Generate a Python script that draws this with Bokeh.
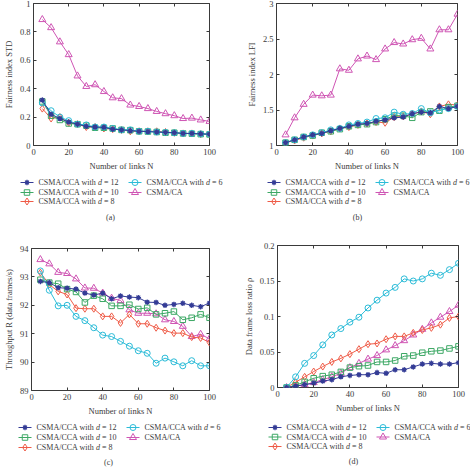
from bokeh.plotting import figure
from bokeh.layouts import column, row
from bokeh.models import LinearAxis, FixedTicker, CustomJSTickFormatter
from bokeh.core.properties import value
from bokeh.embed import file_html
from bokeh.resources import INLINE

# ---- data -------------------------------------------------------------
links = [5, 10, 15, 20, 25, 30, 35, 40, 45, 50,
         55, 60, 65, 70, 75, 80, 85, 90, 95, 100]
x_ticks = [0, 20, 40, 60, 80, 100]

# legend entries: prefix, italic symbol, suffix
series_prefix = ["CSMA/CCA with", "CSMA/CCA with", "CSMA/CCA with", "CSMA/CCA with", "CSMA/CA"]
series_symbol = ["d", "d", "d", "d", ""]
series_suffix = ["= 12", "= 10", "= 8", "= 6", ""]

# (a) fairness index STD
std_d12 = [0.32, 0.22, 0.19, 0.165, 0.15, 0.135, 0.13, 0.128, 0.115, 0.11,
           0.105, 0.10, 0.098, 0.095, 0.092, 0.09, 0.085, 0.085, 0.082, 0.08]
std_d10 = [0.31, 0.21, 0.18, 0.155, 0.15, 0.14, 0.125, 0.125, 0.12, 0.11,
           0.108, 0.10, 0.098, 0.095, 0.09, 0.09, 0.085, 0.083, 0.08, 0.078]
std_d8 = [0.26, 0.19, 0.20, 0.16, 0.15, 0.13, 0.13, 0.12, 0.115, 0.11,
          0.10, 0.10, 0.10, 0.10, 0.095, 0.09, 0.085, 0.085, 0.08, 0.08]
std_d6 = [0.30, 0.245, 0.20, 0.175, 0.15, 0.145, 0.13, 0.13, 0.12, 0.11,
          0.11, 0.10, 0.10, 0.095, 0.092, 0.09, 0.085, 0.085, 0.082, 0.08]
std_ca = [0.887, 0.83, 0.73, 0.64, 0.49, 0.416, 0.428, 0.38, 0.336, 0.33,
          0.285, 0.275, 0.26, 0.24, 0.224, 0.21, 0.19, 0.193, 0.18, 0.17]
std_ticks = [0, 0.2, 0.4, 0.6, 0.8, 1]

# (b) fairness index LFI
lfi_d12 = [1.04, 1.08, 1.12, 1.15, 1.17, 1.21, 1.24, 1.27, 1.30, 1.31,
           1.34, 1.36, 1.39, 1.40, 1.45, 1.47, 1.46, 1.55, 1.52, 1.55]
lfi_d10 = [1.04, 1.08, 1.12, 1.14, 1.18, 1.20, 1.23, 1.27, 1.29, 1.30,
           1.33, 1.37, 1.42, 1.42, 1.39, 1.47, 1.48, 1.49, 1.54, 1.56]
lfi_d8 = [1.04, 1.07, 1.11, 1.14, 1.17, 1.20, 1.24, 1.26, 1.29, 1.31,
          1.33, 1.32, 1.40, 1.41, 1.44, 1.48, 1.44, 1.55, 1.58, 1.57]
lfi_d6 = [1.04, 1.08, 1.12, 1.15, 1.18, 1.22, 1.24, 1.29, 1.31, 1.33,
          1.38, 1.39, 1.47, 1.44, 1.45, 1.52, 1.46, 1.50, 1.52, 1.55]
lfi_ca = [1.15, 1.39, 1.58, 1.71, 1.70, 1.71, 2.08, 2.06, 2.22, 2.26,
          2.21, 2.36, 2.45, 2.43, 2.49, 2.51, 2.36, 2.63, 2.63, 2.85]
lfi_ticks = [1, 1.5, 2, 2.5, 3]

# (c) throughput R (data frames/s)
thr_d12 = [92.84, 92.80, 92.62, 92.60, 92.57, 92.43, 92.36, 92.43, 92.23, 92.33,
           92.29, 92.27, 92.11, 92.10, 92.00, 92.03, 92.07, 92.00, 91.95, 92.08]
thr_d10 = [92.90, 92.80, 92.76, 92.57, 92.47, 92.10, 92.34, 92.23, 91.98, 91.98,
           92.02, 91.87, 91.91, 91.68, 91.72, 91.78, 91.49, 91.56, 91.68, 91.56]
thr_d8 = [93.15, 92.73, 92.49, 92.38, 91.90, 91.88, 91.88, 91.61, 91.61, 91.38,
          91.68, 91.35, 91.35, 91.21, 91.11, 91.02, 91.02, 90.88, 90.85, 90.69]
thr_d6 = [93.21, 92.53, 91.98, 92.00, 91.61, 91.46, 91.21, 90.95, 90.90, 90.73,
          90.56, 90.40, 90.31, 89.96, 90.14, 90.01, 89.87, 90.05, 89.87, 89.87]
thr_ca = [93.61, 93.46, 93.16, 93.12, 92.93, 92.61, 92.60, 92.43, 92.25, 92.17,
          91.84, 91.72, 91.72, 91.70, 91.49, 91.43, 91.26, 90.90, 90.98, 90.82]
thr_ticks = [89, 90, 91, 92, 93, 94]

# (d) data frame loss ratio rho
loss_d12 = [0.0, 0.002, 0.004, 0.006, 0.009, 0.011, 0.015, 0.017, 0.018, 0.018,
            0.021, 0.020, 0.025, 0.025, 0.029, 0.033, 0.034, 0.033, 0.033, 0.035]
loss_d10 = [0.0, 0.003, 0.008, 0.013, 0.016, 0.018, 0.022, 0.028, 0.030, 0.031,
            0.036, 0.036, 0.038, 0.044, 0.045, 0.049, 0.051, 0.052, 0.055, 0.058]
loss_d8 = [0.0, 0.0075, 0.015, 0.0225, 0.0295, 0.036, 0.041, 0.047, 0.054, 0.061,
           0.062, 0.068, 0.072, 0.072, 0.077, 0.081, 0.084, 0.0885, 0.098, 0.100]
loss_d6 = [0.0, 0.015, 0.034, 0.045, 0.060, 0.074, 0.083, 0.092, 0.099, 0.112,
           0.123, 0.133, 0.141, 0.153, 0.150, 0.153, 0.161, 0.158, 0.166, 0.175]
loss_ca = [0.0, 0.002, 0.004, 0.007, 0.011, 0.015, 0.020, 0.028, 0.034, 0.040,
           0.045, 0.053, 0.059, 0.066, 0.074, 0.082, 0.091, 0.099, 0.107, 0.116]
loss_ticks = [0, 0.05, 0.1, 0.15, 0.2]

# ---- styling ----------------------------------------------------------
FONT = "Liberation Serif"
INK = "#3a3a3a"
colors = ["#343c96", "#3da865", "#ef5b47", "#2cbcd8", "#cf55b4"]
markers = ["asterisk", "square", "diamond", "circle", "triangle"]
marker_sizes = [5.5, 5.5, 7, 6, 7]
# draw order: CSMA/CA first, CSMA/CCA d = 12 on top
draw_order = [4, 2, 1, 3, 0]

fmt = CustomJSTickFormatter(code="return String(Math.round(tick * 1000) / 1000)")


def free_frame(p):
    # keep every plot's frame exactly where its own borders put it
    try:
        p.frame_align = False
    except AttributeError:
        pass


def style_axis(ax, mirror=False):
    ax.major_tick_in = 3
    ax.major_tick_out = 0
    ax.minor_tick_in = 0
    ax.minor_tick_out = 0
    ax.axis_line_color = None
    ax.major_tick_line_color = INK
    if mirror:
        # tick marks only; the labels stay on the left/bottom axes
        ax.major_label_text_color = None
        ax.major_label_text_font_size = "1px"
        ax.major_label_standoff = 0
        return
    ax.major_label_text_font = FONT
    ax.major_label_text_color = INK
    ax.major_label_text_font_size = "8.5px"
    ax.major_label_standoff = 3
    ax.axis_label_text_font = FONT
    ax.axis_label_text_font_style = "normal"
    ax.axis_label_text_color = INK
    ax.axis_label_text_font_size = "8.5px"
    ax.axis_label_standoff = 3


def draw_marker(p, x, y, i):
    c = colors[i]
    s = marker_sizes[i]
    if markers[i] == "asterisk":
        p.scatter(x, y, marker="asterisk", size=s, line_color=c, line_width=1.2)
        p.scatter(x, y, marker="circle", size=3, line_color=c, fill_color=c)
    else:
        p.scatter(x, y, marker=markers[i], size=s, line_color=c,
                  fill_color=None, line_width=1)


def data_panel(h, borders, y_range, y_ticks, y_label, ys):
    left, right, top, bottom = borders
    p = figure(width=235, height=h, x_range=(0, 100), y_range=y_range,
               title=None, output_backend="svg", toolbar_location=None,
               min_border_left=left, min_border_right=right,
               min_border_top=top, min_border_bottom=bottom)
    free_frame(p)
    p.xgrid.visible = False
    p.ygrid.visible = False
    p.outline_line_color = INK
    p.outline_line_alpha = 1

    p.xaxis.ticker = FixedTicker(ticks=x_ticks)
    p.yaxis.ticker = FixedTicker(ticks=y_ticks)
    p.xaxis.formatter = fmt
    p.yaxis.formatter = fmt
    p.xaxis.axis_label = "Number of links N"
    p.yaxis.axis_label = y_label
    style_axis(p.xaxis[0])
    style_axis(p.yaxis[0])

    right_ax = LinearAxis(ticker=FixedTicker(ticks=y_ticks))
    top_ax = LinearAxis(ticker=FixedTicker(ticks=x_ticks))
    style_axis(right_ax, mirror=True)
    style_axis(top_ax, mirror=True)
    p.add_layout(right_ax, "right")
    p.add_layout(top_ax, "above")

    for i in draw_order:
        p.line(links, ys[i], line_color=colors[i], line_width=1)
        draw_marker(p, links, ys[i], i)
    return p


# Times-compatible advance widths (per 1000 em) for the legend prefix
PREFIX_EM = {"CSMA/CCA with": 7196, "CSMA/CA": 4446}
SPACE_EM = 250
D_EM = 500


def key_panel(h, x0, rows_y, caption, cap_x, cap_y, fs=8.0):
    # a key strip in pixel coordinates: x to the right, y downwards
    q = figure(width=235, height=h, x_range=(0, 235), y_range=(h, 0),
               title=None, output_backend="svg", toolbar_location=None,
               x_axis_type=None, y_axis_type=None, min_border=0)
    free_frame(q)
    q.xgrid.visible = False
    q.ygrid.visible = False
    q.outline_line_color = None
    pitch, gw, toff = 108, 13, 18
    for i in range(5):
        col, r = (0, i) if i < 3 else (1, i - 3)
        gx = x0 + col * pitch
        gy = rows_y[r]
        q.segment(x0=[gx], y0=[gy], x1=[gx + gw], y1=[gy],
                  line_color=colors[i], line_width=1)
        draw_marker(q, [gx + gw / 2], [gy], i)
        tx = gx + toff
        q.text(x=[tx], y=[gy], text=[series_prefix[i]], text_font=value(FONT),
               text_font_size=value(f"{fs}px"), text_baseline="middle",
               text_align="left", text_color=INK)
        if series_symbol[i]:
            sx = tx + (PREFIX_EM[series_prefix[i]] + SPACE_EM) * fs / 1000
            q.text(x=[sx], y=[gy], text=[series_symbol[i]], text_font=value(FONT),
                   text_font_size=value(f"{fs}px"), text_font_style="italic",
                   text_baseline="middle", text_align="left", text_color=INK)
            ex = sx + (D_EM + SPACE_EM) * fs / 1000
            q.text(x=[ex], y=[gy], text=[series_suffix[i]], text_font=value(FONT),
                   text_font_size=value(f"{fs}px"), text_baseline="middle",
                   text_align="left", text_color=INK)
    q.text(x=[cap_x], y=[cap_y], text=[caption], text_font=value(FONT),
           text_font_size=value(f"{fs}px"), text_baseline="middle",
           text_align="center", text_color=INK)
    return q


pa = data_panel(175, (29, 26, 3, 30), (0, 1), std_ticks, "Fairness index STD",
                [std_d12, std_d10, std_d8, std_d6, std_ca])
pb = data_panel(175, (41, 13, 3, 30), (1, 3), lfi_ticks, "Fairness index LFI",
                [lfi_d12, lfi_d10, lfi_d8, lfi_d6, lfi_ca])
pc = data_panel(190, (26, 26, 18, 30), (89, 94), thr_ticks,
                "Throughput R (data frames/s)",
                [thr_d12, thr_d10, thr_d8, thr_d6, thr_ca])
pd = data_panel(190, (42, 12, 15, 33), (0, 0.2), loss_ticks,
                "Data frame loss ratio \u03c1",
                [loss_d12, loss_d10, loss_d8, loss_d6, loss_ca])

ka = key_panel(55, 20, [7, 17, 26], "(a)", 110, 42)
kb = key_panel(55, 32, [7, 17, 26], "(b)", 122, 42)
kc = key_panel(54, 18, [7, 17, 27], "(c)", 108, 42)
kd = key_panel(54, 33, [7, 16.5, 26], "(d)", 118, 41)

layout = column(row(column(pa, ka), column(pb, kb)),
                row(column(pc, kc), column(pd, kd)))

with open("out.html", "w") as f:
    f.write(file_html(layout, INLINE))
